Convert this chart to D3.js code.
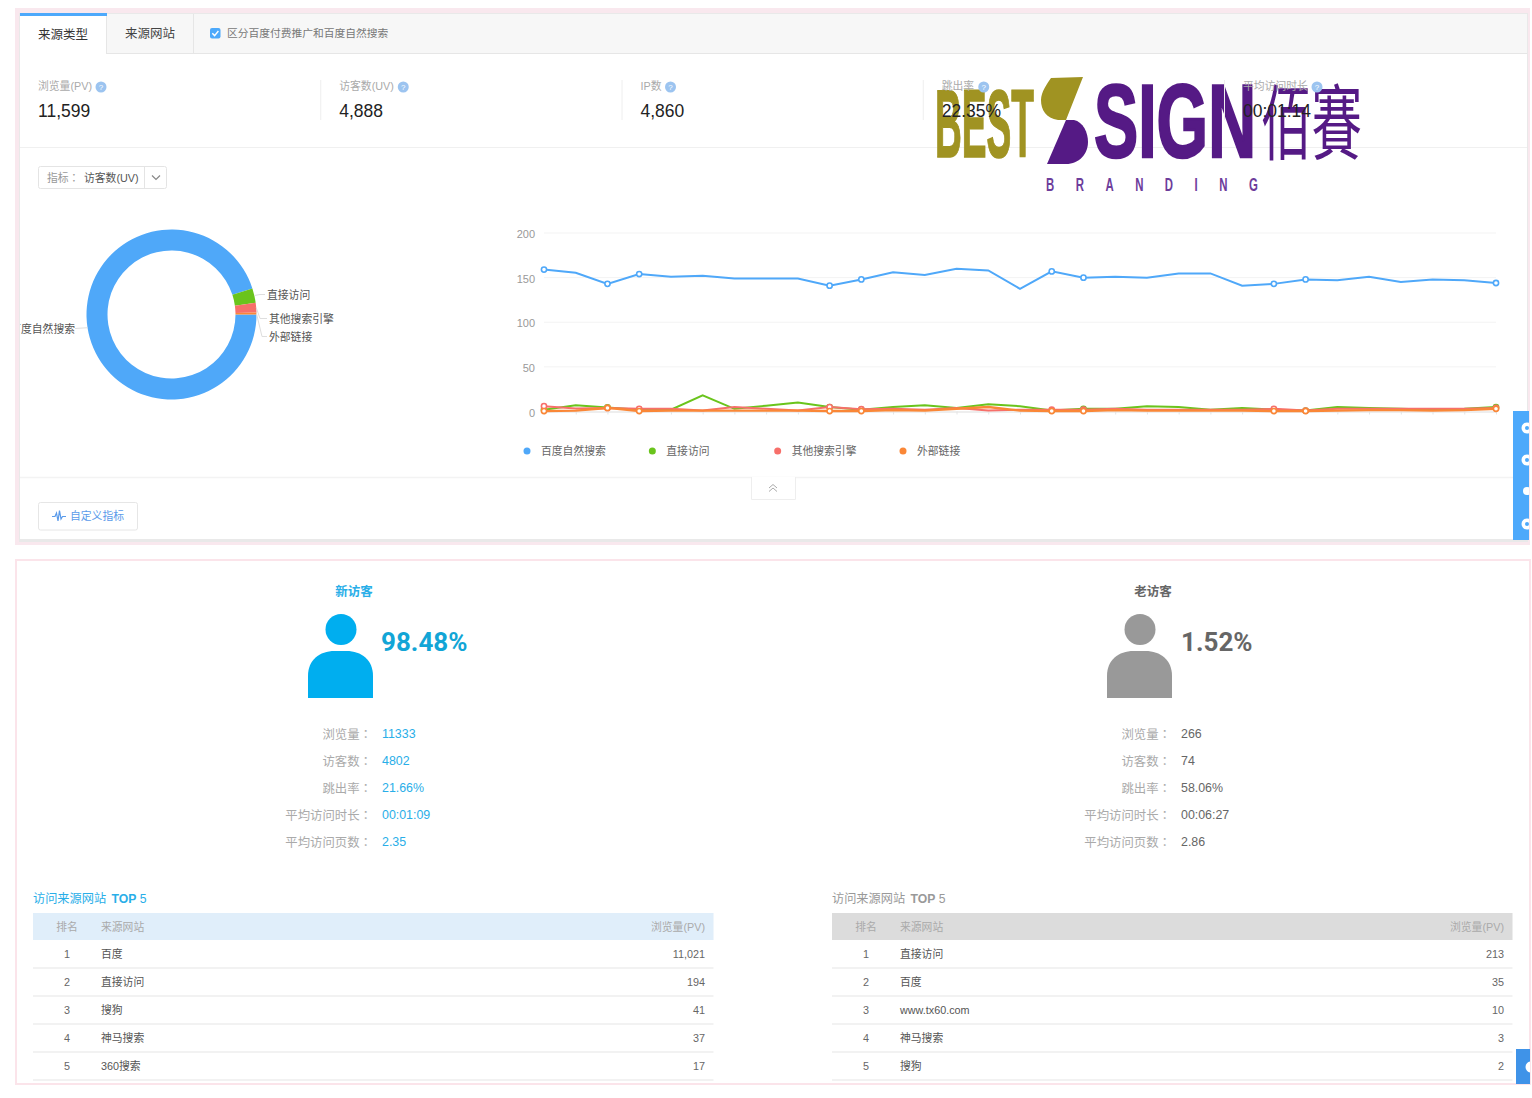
<!DOCTYPE html>
<html>

<head>
    <meta charset="utf-8">
    <style>
        html, body { margin: 0; padding: 0; background: #fff; }
        svg { display: block; }
        text { font-family: "Liberation Sans", "Noto Sans CJK SC", sans-serif; }
    </style>
    <script src="https://cdn.jsdelivr.net/npm/d3@7/dist/d3.min.js"></script>
    <title>来源类型</title>
</head>

<body>
    <div id="chart"></div>

    <script>
        // Data
        const seriesNames = ["百度自然搜索", "直接访问", "其他搜索引擎", "外部链接"];
        const seriesColors = ["#4fa8f9", "#6ac41c", "#f76f6a", "#fa8737"];
        const pieValues = [4645, 135, 90, 18];
        const days = d3.range(31);
        const markerDays = [0, 2, 3, 9, 10, 16, 17, 23, 24, 30];
        const baiduValues = [159, 155.5, 143, 154, 151, 152, 149, 149, 149, 141, 148, 156, 153, 160, 158, 137.5, 157, 150, 151, 150, 154.7, 154.7, 141, 143, 148, 147, 151, 145, 148, 147, 144];
        const directValues = [2, 7, 4.5, 2, 2, 18, 3, 6.5, 10, 5, 2, 5, 7, 4, 8, 6, 1, 3, 3, 6, 5, 2, 4, 2, 1, 5, 4, 3, 2, 3, 5];
        const otherValues = [6, 3.5, 4, 3, 3, 1, 5, 3, 1, 5, 2.5, 3, 2, 4, 1, 2, 2, 2, 3, 2, 2, 2, 2, 3, 1, 3, 3, 3, 3, 3, 4];
        const externalValues = [0.5, 1, 4, 0.5, 1, 1, 1, 1, 1, 0.5, 0.5, 1.5, 1, 3, 5, 1, 0.5, 0.5, 1.5, 1, 1, 1, 1, 0.5, 0.5, 1, 1.5, 1.5, 1, 1.5, 3];
        const yTicks = [0, 50, 100, 150, 200];

        const metricNames = ["浏览量(PV)", "访客数(UV)", "IP数", "跳出率", "平均访问时长"];
        const metricValues = ["11,599", "4,888", "4,860", "22.35%", "00:01:14"];

        const statNames = ["浏览量：", "访客数：", "跳出率：", "平均访问时长：", "平均访问页数："];
        const newStats = ["11333", "4802", "21.66%", "00:01:09", "2.35"];
        const oldStats = ["266", "74", "58.06%", "00:06:27", "2.86"];

        const newSites = ["百度", "直接访问", "搜狗", "神马搜索", "360搜索"];
        const newSitePv = ["11,021", "194", "41", "37", "17"];
        const oldSites = ["直接访问", "百度", "www.tx60.com", "神马搜索", "搜狗"];
        const oldSitePv = ["213", "35", "10", "3", "2"];

        const width = 1532, height = 1098;
        const svg = d3.select("#chart").append("svg")
            .attr("width", width)
            .attr("height", height);

        svg.append("defs").append("clipPath").attr("id", "panelClip")
            .append("rect").attr("x", 20).attr("y", 0).attr("width", 1510).attr("height", 545);

        const rect = (x, y, w, h, fill, stroke) => svg.append("rect")
            .attr("x", x).attr("y", y).attr("width", w).attr("height", h)
            .attr("fill", fill).attr("stroke", stroke || "none");

        const text = (parent, x, y, str, size, color, anchor) => parent.append("text")
            .attr("x", x).attr("y", y + 0.5)
            .attr("dominant-baseline", "central")
            .attr("text-anchor", anchor || "start")
            .attr("font-size", size)
            .attr("fill", color)
            .text(str);

        const hline = (x1, x2, y, color, w) => svg.append("line")
            .attr("x1", x1).attr("x2", x2).attr("y1", y).attr("y2", y)
            .attr("stroke", color).attr("stroke-width", w || 1);

        // Panel frames
        rect(15, 8, 1515, 537, "#f9e8ee");
        rect(19, 13, 1509, 529, "#e9e9e9");
        rect(20, 14, 1507, 525, "#fff");
        rect(16, 560, 1514, 524, "#fff", "#fbe4ea").attr("stroke-width", 2);

        // Tabs
        rect(20, 14, 1507, 39, "#f7f7f7");
        hline(20, 1527, 53.5, "#e6e6e6");
        rect(20, 14, 87, 40, "#fff");
        rect(20, 13, 87, 3, "#4da9fb");
        svg.append("line").attr("x1", 106.5).attr("x2", 106.5).attr("y1", 16).attr("y2", 54).attr("stroke", "#e6e6e6");
        svg.append("line").attr("x1", 193.5).attr("x2", 193.5).attr("y1", 14).attr("y2", 53).attr("stroke", "#e6e6e6");
        text(svg, 38, 34.5, "来源类型", 12.5, "#333");
        text(svg, 125, 33, "来源网站", 12.5, "#444");
        rect(210, 28, 10.5, 10.5, "#4da9fb").attr("rx", 2);
        svg.append("path").attr("d", "M212.3,33.2 L214.6,35.6 L218.4,31")
            .attr("fill", "none").attr("stroke", "#fff").attr("stroke-width", 1.4);
        text(svg, 227, 32.5, "区分百度付费推广和百度自然搜索", 10.75, "#777");

        hline(20, 1527, 147.5, "#f0f0f0");

        // Logo that sits over the metric row
        const logoOlive = "#a09322", logoPurple = "#551a85";
        const logo = svg.append("g");
        const logoText = (x, y, str, size, len, color, weight, adjust) => logo.append("text")
            .attr("x", x).attr("y", y)
            .attr("font-size", size).attr("font-weight", weight)
            .attr("fill", color)
            .attr("textLength", len).attr("lengthAdjust", adjust || "spacingAndGlyphs")
            .text(str);
        logoText(935, 157, "BEST", 96, 99, logoOlive, 700).attr("stroke", logoOlive).attr("stroke-width", 1.5);
        logoText(1094, 157, "SIGN", 104, 162, logoPurple, 700).attr("stroke", logoPurple).attr("stroke-width", 2.5);
        logoText(1261, 153, "佰賽", 82, 101, logoPurple, 400).style("font-family", "'Noto Sans CJK TC'");
        // narrow letters, wide gaps
        logoText(0, 0, "BRANDING", 19, 353, "#6d3d9b", 700, "spacing")
            .attr("transform", "translate(1046,190.5) scale(0.6,1)");
        logo.append("path").attr("fill", logoOlive)
            .attr("d", "M1051,78 L1083,77 L1066,120 L1058,120 C1046,118 1041,110 1041,100 C1041,92 1047,84 1051,78 Z");
        logo.append("path").attr("fill", logoPurple)
            .attr("d", "M1066,120 L1074,120 C1083,122 1088,132 1088,142 C1088,154 1079,164 1066,164 L1047,164 Z");

        // Metric row, on top of the logo
        const metricX = d3.scaleLinear().domain([0, 4]).range([38, 1243]);
        const helpOffset = [63, 64, 30, 42, 74];
        metricNames.forEach((name, i) => {
            const x = metricX(i);
            text(svg, x, 85.5, name, 10.8, "#aaa");
            svg.append("circle").attr("cx", x + helpOffset[i]).attr("cy", 87).attr("r", 5.5).attr("fill", "#9cc4f0");
            text(svg, x + helpOffset[i], 86.5, "?", 8, "#fff", "middle");
            const value = text(svg, x, 110, metricValues[i], 19, "#222");
            // the screenshot is squeezed sideways, so narrow the numbers the same way
            value.attr("textLength", value.node().getComputedTextLength() * 0.92).attr("lengthAdjust", "spacingAndGlyphs");
            if (i > 0) {
                svg.append("line").attr("x1", x - 18.5).attr("x2", x - 18.5).attr("y1", 80).attr("y2", 120).attr("stroke", "#eee");
            }
        });

        // Metric select
        rect(38.5, 166.5, 128, 22, "#fff", "#e4e4e4").attr("rx", 2);
        svg.append("line").attr("x1", 144.5).attr("x2", 144.5).attr("y1", 167).attr("y2", 188).attr("stroke", "#e4e4e4");
        text(svg, 47, 177, "指标：", 10.8, "#999").style("font-family", "'Liberation Sans', 'Noto Sans CJK TC'");
        text(svg, 84, 177, "访客数(UV)", 10.8, "#555");
        svg.append("path").attr("d", "M152,175.5 L156,179.5 L160,175.5").attr("fill", "none").attr("stroke", "#888").attr("stroke-width", 1.2);

        // Donut
        const pieG = svg.append("g").attr("clip-path", "url(#panelClip)");
        const pieCx = 171.5, pieCy = 314.5, outerR = 85, innerR = 64;
        const pie = d3.pie().sort(null).startAngle(Math.PI / 2).endAngle(Math.PI * 2.5);
        const arc = d3.arc().innerRadius(innerR).outerRadius(outerR);
        const arcs = pie(pieValues);
        pieG.append("g").attr("transform", `translate(${pieCx},${pieCy})`)
            .selectAll("path").data(arcs).join("path")
            .attr("d", arc)
            .attr("fill", (d, i) => seriesColors[i]);

        // Pie labels: [elbow x, elbow y, label x, anchor]
        const pieLabelPos = [[75, 328.5, 75, "end"], [260, 294.5, 267, "start"], [260, 318.5, 269, "start"], [262, 336.5, 269, "start"]];
        arcs.forEach((d, i) => {
            const mid = (d.startAngle + d.endAngle) / 2;
            const sx = pieCx + Math.sin(mid) * outerR, sy = pieCy - Math.cos(mid) * outerR;
            const p = pieLabelPos[i];
            const endX = p[3] === "end" ? p[2] + 1 : p[2] - 2;
            pieG.append("path")
                .attr("d", d3.line()([[sx, sy], [p[0], p[1]], [endX, p[1]]]))
                .attr("fill", "none").attr("stroke", "#dedede");
            text(pieG, p[2], p[1], seriesNames[i], 10.8, "#555", p[3]);
        });

        // Line chart
        const x = d3.scalePoint().domain(days).range([544, 1496]);
        const y = d3.scaleLinear().domain([0, 200]).range([411.5, 233]);

        const yAxis = svg.append("g").attr("transform", "translate(544,0)")
            .call(d3.axisLeft(y).tickValues(yTicks).tickSize(0).tickPadding(9));
        yAxis.select(".domain").remove();
        yAxis.selectAll("text").attr("font-size", 11).attr("fill", "#999").attr("font-family", null).attr("dy", "0.42em");

        svg.append("g").selectAll("line").data(yTicks.filter(d => d > 0)).join("line")
            .attr("x1", 544).attr("x2", 1496)
            .attr("y1", d => y(d)).attr("y2", d => y(d))
            .attr("stroke", "#f3f3f3");

        const xAxis = svg.append("g").attr("transform", "translate(0,411.5)")
            .call(d3.axisBottom(x).tickSize(3).tickSizeOuter(0).tickFormat(""));
        xAxis.select(".domain").attr("stroke", "#ddd");
        xAxis.selectAll("line").attr("stroke", "#e4e4e4");

        const line = d3.line().x((d, i) => x(days[i])).y(d => y(d));
        [baiduValues, directValues, otherValues, externalValues].forEach((values, s) => {
            svg.append("path")
                .attr("d", line(values))
                .attr("fill", "none")
                .attr("stroke", seriesColors[s])
                .attr("stroke-width", s === 3 ? 2.4 : 2);
            svg.append("g").selectAll("circle").data(markerDays).join("circle")
                .attr("cx", d => x(d))
                .attr("cy", d => y(values[d]))
                .attr("r", 2.6)
                .attr("fill", "#fff")
                .attr("stroke", seriesColors[s])
                .attr("stroke-width", 1.6);
        });

        // Line chart legend
        const legendX = d3.scaleLinear().domain([0, 3]).range([527, 903]);
        seriesNames.forEach((name, i) => {
            svg.append("circle").attr("cx", legendX(i)).attr("cy", 451).attr("r", 3.5).attr("fill", seriesColors[i]);
            text(svg, legendX(i) + 14, 450.5, name, 10.8, "#666");
        });

        // Collapse handle and custom metric button
        hline(20, 1513, 477.5, "#f3f3f3", 1.5);
        svg.append("path").attr("d", "M751.5,477 V499.5 H795.5 V477").attr("fill", "#fff").attr("stroke", "#eee");
        svg.append("path").attr("d", "M769,488 L773,484.5 L777,488 M769,491.5 L773,488 L777,491.5")
            .attr("fill", "none").attr("stroke", "#aaa");
        rect(38.5, 502.5, 99, 27.5, "#fff", "#e6e6e6").attr("rx", 2);
        svg.append("path").attr("d", "M52,516.5 H55 L56.5,513 L58,521 L59.5,510.5 L61,519 L62.5,516.5 H66")
            .attr("fill", "none").attr("stroke", "#5b9bea").attr("stroke-width", 1.2);
        text(svg, 70, 515.5, "自定义指标", 10.8, "#5b9bea");

        // Side toolbars, clipped at the page edge
        const sideClip = svg.select("defs").append("clipPath").attr("id", "sideClip");
        sideClip.append("rect").attr("x", 1513).attr("y", 411).attr("width", 16).attr("height", 129);
        sideClip.append("rect").attr("x", 1516).attr("y", 1049).attr("width", 14).attr("height", 35);
        const side = svg.append("g").attr("clip-path", "url(#sideClip)");
        side.append("rect").attr("x", 1513).attr("y", 411).attr("width", 17).attr("height", 129).attr("fill", "#4da9fb");
        side.append("rect").attr("x", 1516).attr("y", 1049).attr("width", 14).attr("height", 35).attr("fill", "#3f93e8");
        side.selectAll("circle.btn").data([428, 460, 491, 524, 1067]).join("circle")
            .attr("class", "btn")
            .attr("cx", d => d === 1067 ? 1531 : 1527)
            .attr("cy", d => d)
            .attr("r", d => d === 491 ? 4 : 5.5)
            .attr("fill", "#fff");
        side.selectAll("circle.dot").data([428, 460, 524]).join("circle")
            .attr("class", "dot")
            .attr("cx", 1527)
            .attr("cy", d => d)
            .attr("r", 2)
            .attr("fill", "#4da9fb");

        // Visitor columns
        const person = (cx, color) => {
            svg.append("circle").attr("cx", cx + 0.5).attr("cy", 629.5).attr("r", 15.5).attr("fill", color);
            svg.append("path").attr("fill", color)
                .attr("transform", `translate(${cx},0)`)
                .attr("d", "M-32.5,698 V676 C-32.5,660 -21,651 -6,651 H6 C21,651 32.5,660 32.5,676 V698 Z");
        };

        const column = (cfg) => {
            text(svg, cfg.titleX, 591.5, cfg.title, 12.5, cfg.color, "middle").attr("font-weight", 700);
            person(cfg.personX, cfg.iconColor);
            text(svg, cfg.shareX - 1, 641.5, cfg.share, 26, cfg.shareColor)
                .attr("font-weight", 700).style("font-family", "Roboto");
            const rowY = d3.scalePoint().domain(statNames).range([733.5, 841.5]);
            statNames.forEach((name, i) => {
                // the TC face centres the full-width colon like the reference does
                text(svg, cfg.labelX + 2, rowY(name), name, 12.4, "#aaa", "end").style("font-family", "'Noto Sans CJK TC'");
                text(svg, cfg.labelX + 12, rowY(name), cfg.stats[i], 12.4, cfg.color);
            });

            // Top 5 table
            const left = cfg.tableX, right = left + 680;
            const title = svg.append("text").attr("x", left).attr("y", 898.5)
                .attr("dominant-baseline", "central").attr("font-size", 12.2).attr("fill", cfg.titleColor);
            title.append("tspan").text("访问来源网站 ");
            title.append("tspan").attr("dx", 2).attr("font-weight", 700).text("TOP");
            title.append("tspan").text(" 5");
            rect(left, 913, 680.5, 27, cfg.headFill);
            text(svg, left + 34, 926.5, "排名", 10.8, "#aaa", "middle");
            text(svg, left + 68, 926.5, "来源网站", 10.8, "#aaa");
            text(svg, right - 8, 926.5, "浏览量(PV)", 10.8, "#aaa", "end");
            const tableY = d3.scaleBand().domain(d3.range(5)).range([940, 1080]);
            cfg.sites.forEach((site, i) => {
                const cy = tableY(i) + tableY.bandwidth() / 2 - 0.5;
                text(svg, left + 34, cy, i + 1, 10.8, "#666", "middle");
                text(svg, left + 68, cy, site, 10.8, "#555");
                text(svg, right - 8, cy, cfg.pv[i], 10.8, "#666", "end");
                hline(left, right + 0.5, tableY(i) + tableY.bandwidth(), "#eeeeee", 1.5);
            });
        };

        column({
            title: "新访客", titleX: 354, personX: 340.5, color: "#29aee8", titleColor: "#29aee8", iconColor: "#00aeef",
            share: "98.48%", shareX: 382, shareColor: "#12a5d6", labelX: 370, stats: newStats,
            tableX: 33, headFill: "#e0eefa", sites: newSites, pv: newSitePv
        });
        column({
            title: "老访客", titleX: 1153, personX: 1139.5, color: "#666", titleColor: "#999", iconColor: "#999",
            share: "1.52%", shareX: 1182, shareColor: "#666", labelX: 1169, stats: oldStats,
            tableX: 832, headFill: "#dcdcdc", sites: oldSites, pv: oldSitePv
        });
    </script>
</body>

</html>
